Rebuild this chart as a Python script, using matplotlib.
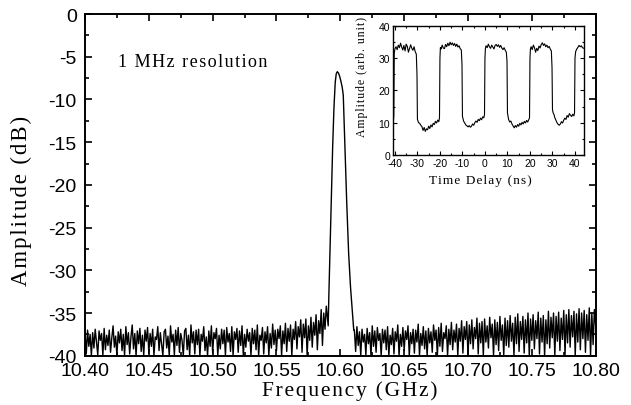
import numpy as np
import matplotlib
matplotlib.use('Agg')
import matplotlib.pyplot as plt
from matplotlib.ticker import MultipleLocator

plt.rcParams['axes.unicode_minus'] = False

# noise floor below the peak, 10.400 - 10.589 GHz (1 MHz steps)
noise_left = [
    -37.2, -39.8, -37.0, -38.9, -37.5, -40.0, -37.3, -39.1, -36.9, -38.4,
    -39.9, -37.1, -38.2, -37.4, -40.0, -36.8, -39.3, -37.6, -38.8, -37.0,
    -39.6, -37.9, -36.5, -39.0, -37.7, -40.0, -37.2, -38.5, -36.9, -39.4,
    -37.5, -40.0, -36.6, -38.7, -37.3, -39.8, -37.8, -36.4, -39.2, -37.4,
    -40.0, -37.1, -38.6, -36.8, -39.5, -37.6, -40.0, -37.0, -38.3, -36.7,
    -39.7, -37.4, -38.9, -36.9, -40.0, -37.8, -38.1, -36.6, -39.4, -37.3,
    -38.6, -40.0, -37.2, -36.9, -39.1, -37.7, -40.0, -36.5, -38.4, -37.5,
    -39.9, -37.0, -38.8, -36.7, -39.6, -37.4, -38.2, -40.0, -37.1, -36.8,
    -39.3, -37.6, -40.0, -36.4, -38.5, -37.2, -39.8, -37.0, -38.7, -36.9,
    -40.0, -37.5, -38.3, -36.6, -39.4, -37.8, -40.0, -37.1, -38.9, -36.5,
    -39.7, -37.3, -38.0, -36.8, -40.0, -37.6, -39.2, -36.9, -38.6, -37.0,
    -40.0, -36.7, -38.4, -37.4, -39.5, -36.6, -40.0, -37.2, -38.1, -36.8,
    -39.6, -37.1, -38.8, -36.5, -40.0, -37.5, -39.0, -36.9, -38.3, -37.3,
    -40.0, -36.8, -38.6, -37.0, -39.3, -36.4, -40.0, -37.6, -38.2, -36.7,
    -39.8, -37.2, -38.5, -36.6, -40.0, -37.4, -39.1, -36.3, -38.7, -37.0,
    -39.4, -36.9, -38.0, -36.5, -40.0, -37.1, -38.6, -36.2, -39.5, -36.8,
    -38.3, -36.4, -40.0, -36.9, -38.1, -36.0, -39.2, -36.6, -37.8, -35.8,
    -39.6, -36.3, -37.9, -35.7, -40.0, -36.5, -38.2, -35.5, -39.0, -36.1,
    -37.6, -35.2, -39.3, -35.9, -37.4, -34.6, -38.8, -35.0, -36.9, -34.2,
]

# the carrier peak
peak_freq = [10.5905, 10.5910, 10.5920, 10.5930, 10.5940, 10.5950, 10.5960,
             10.5968, 10.5976, 10.5985, 10.5995, 10.6005, 10.6015, 10.6023,
             10.6035, 10.6050, 10.6065, 10.6080, 10.6097, 10.6105]
peak_amp = [-36.5, -33.0, -27.0, -21.0, -15.5, -11.0, -8.0,
            -7.0, -6.75, -6.9, -7.3, -7.9, -8.6, -9.5,
            -15.0, -22.0, -28.0, -32.0, -35.3, -37.0]

# noise floor above the peak, 10.611 - 10.800 GHz
noise_right = [
    -37.0, -39.5, -36.6, -38.8, -37.2, -40.0, -36.9, -38.4, -37.5, -39.9,
    -36.8, -38.6, -37.3, -40.0, -36.5, -38.9, -37.1, -39.6, -36.7, -38.2,
    -37.4, -40.0, -36.9, -38.5, -37.0, -39.3, -36.6, -40.0, -37.6, -38.7,
    -36.8, -39.8, -37.2, -38.3, -36.4, -40.0, -37.5, -38.9, -36.7, -39.4,
    -37.1, -38.1, -36.5, -40.0, -37.3, -38.6, -36.9, -39.7, -37.0, -38.4,
    -36.3, -40.0, -37.4, -38.8, -36.6, -39.2, -37.1, -40.0, -36.8, -38.5,
    -37.2, -39.6, -36.4, -38.2, -37.0, -40.0, -36.7, -38.9, -36.2, -39.5,
    -37.3, -38.0, -36.5, -40.0, -36.9, -38.7, -36.1, -39.3, -37.0, -38.4,
    -36.3, -40.0, -36.8, -38.3, -35.9, -39.7, -36.6, -38.1, -36.0, -40.0,
    -36.4, -38.6, -35.8, -39.2, -36.7, -38.0, -35.6, -39.8, -36.2, -38.5,
    -36.0, -40.0, -35.7, -38.4, -36.5, -39.1, -35.5, -37.9, -36.3, -40.0,
    -35.8, -38.7, -36.1, -39.4, -35.4, -38.2, -36.4, -40.0, -35.6, -38.8,
    -35.9, -39.0, -35.3, -38.3, -36.2, -40.0, -35.5, -38.6, -35.1, -39.5,
    -36.0, -38.1, -35.4, -39.7, -35.8, -38.5, -35.0, -40.0, -35.7, -38.2,
    -35.2, -39.2, -35.9, -38.0, -34.9, -39.8, -35.6, -38.4, -35.3, -40.0,
    -35.8, -38.6, -34.8, -39.1, -35.5, -37.9, -35.0, -40.0, -35.4, -38.3,
    -34.9, -39.4, -35.6, -38.1, -34.7, -39.9, -35.2, -38.5, -34.6, -39.0,
    -35.3, -37.8, -34.8, -40.0, -35.1, -38.4, -34.5, -39.3, -35.0, -38.0,
    -34.7, -39.6, -35.2, -38.2, -34.4, -40.0, -35.0, -38.7, -34.6, -36.5,
]

# inset: detected pulse train
t_ns = [-41, -40.8, -40.5, -40.3, -40.0, -39.5, -39, -38.5, -38, -37.5, -37, -36.5, -36,
        -35.5, -35, -34.5, -34, -33.5, -33, -32.5, -32, -31.5, -31, -30.5, -30.2, -30.0,
        -29.5, -29, -28.5, -28, -27.5, -27, -26.5, -26, -25.5, -25, -24.5, -24, -23.5,
        -23, -22.5, -22, -21.5, -21, -20.5, -20.2, -20.0,
        -19.8, -19.5, -19, -18.5, -18, -17.5, -17, -16.5, -16, -15.5, -15, -14.5, -14,
        -13.5, -13, -12.5, -12, -11.5, -11, -10.5, -10.2, -10.0,
        -9.5, -9, -8.5, -8, -7.5, -7, -6.5, -6, -5.5, -5, -4.5, -4, -3.5, -3, -2.5, -2,
        -1.5, -1, -0.5, -0.2, 0.0,
        0.2, 0.5, 1, 1.5, 2, 2.5, 3, 3.5, 4, 4.5, 5, 5.5, 6, 6.5, 7, 7.5, 8, 8.5, 9,
        9.5, 9.8, 10.0,
        10.5, 11, 11.5, 12, 12.5, 13, 13.5, 14, 14.5, 15, 15.5, 16, 16.5, 17, 17.5, 18,
        18.5, 19, 19.5, 19.8, 20.0,
        20.2, 20.5, 21, 21.5, 22, 22.5, 23, 23.5, 24, 24.5, 25, 25.5, 26, 26.5, 27, 27.5,
        28, 28.5, 29, 29.5, 29.8, 30.0,
        30.3, 30.7, 31, 31.5, 32, 32.5, 33, 33.5, 34, 34.5, 35, 35.5, 36, 36.5, 37, 37.5,
        38, 38.5, 39, 39.5, 39.8, 40.0,
        40.3, 40.8, 41.3, 41.8, 42.3, 42.8, 43.3, 44]
pulse = [10.2, 9.6, 12.0, 31.5, 32.8, 33.5, 32.6, 34.0, 33.2, 34.6, 33.4, 32.5, 33.9,
         32.2, 34.3, 33.6, 31.8, 32.9, 34.1, 33.0, 32.4, 33.5, 32.0, 31.2, 25.0, 11.0,
         10.0, 9.8, 9.2, 8.8, 7.6, 8.5, 7.3, 8.1, 7.8, 8.9, 8.2, 9.3, 8.7,
         9.8, 9.4, 10.4, 9.9, 10.8, 10.3, 11.5, 30.0,
         33.2, 32.8, 34.0, 33.1, 32.9, 34.2, 33.5, 34.6, 33.8, 34.9, 34.1, 34.7, 33.9,
         34.5, 33.6, 34.3, 33.4, 33.8, 32.9, 32.5, 28.0, 12.0,
         10.5, 9.9, 9.3, 9.0, 8.7, 9.1, 8.6, 8.9, 9.6, 9.2, 10.0, 10.5, 10.1, 11.0, 10.6, 11.4,
         10.9, 11.8, 11.5, 12.5, 30.0,
         33.0, 33.8, 33.2, 34.3, 33.5, 33.0, 34.0, 33.4, 32.8, 33.9, 34.2, 33.6, 34.1, 33.3, 33.9, 33.1, 32.6, 33.2, 32.4,
         31.8, 29.0, 13.0,
         11.0, 10.2, 10.5, 9.6, 9.0, 8.4, 9.1, 8.6, 9.4, 8.9, 9.8, 9.3, 10.1, 9.6, 10.4, 9.9,
         10.7, 10.2, 11.0, 11.5, 30.0,
         32.8, 33.5, 32.6, 34.0, 33.2, 31.8, 33.0, 32.3, 33.7, 33.1, 34.2, 34.7, 33.9, 34.4, 33.5, 34.0,
         33.2, 33.6, 32.8, 32.2, 27.0, 14.0,
         13.0, 12.5, 11.6, 10.8, 10.0, 9.5, 9.2, 9.6, 10.3, 9.9, 10.8, 11.4, 11.0, 12.2, 11.7, 12.8,
         12.3, 11.9, 12.6, 12.1, 13.0, 30.0,
         32.0, 32.8, 33.3, 33.9, 33.5, 33.8, 33.2, 33.0]

freq_left = np.linspace(10.400, 10.589, len(noise_left))
freq_right = np.linspace(10.611, 10.800, len(noise_right))
freq = np.concatenate([freq_left, peak_freq, freq_right])
amp = np.concatenate([noise_left, peak_amp, noise_right])

SERIF = ['Liberation Serif', 'DejaVu Serif']
SANS = ['Liberation Sans', 'DejaVu Sans']


def spaced(s):
    # the labels in the reference are letter-spaced a little
    return '\u200a'.join(s)


fig = plt.figure(figsize=(6.31, 4.06), dpi=100)
ax = fig.add_axes([0.1347, 0.1214, 0.8093, 0.8416])
ax.plot(freq, amp, color='black', lw=1.0)
ax.set_xlim(10.40, 10.80)
ax.set_ylim(-40, 0)
ax.xaxis.set_major_locator(MultipleLocator(0.05))
ax.xaxis.set_minor_locator(MultipleLocator(0.025))
ax.yaxis.set_major_locator(MultipleLocator(5))
ax.yaxis.set_minor_locator(MultipleLocator(2.5))
ax.xaxis.set_major_formatter(plt.FormatStrFormatter('%.2f'))
ax.tick_params(which='both', direction='in', top=True, right=True, width=1.2)
ax.tick_params(which='major', length=5, labelsize=14, pad=6)
ax.tick_params(axis='x', which='major', pad=4.5)
ax.tick_params(which='minor', length=3)
for lab in ax.get_xticklabels() + ax.get_yticklabels():
    lab.set_family(SANS)
for s in ax.spines.values():
    s.set_linewidth(1.4)
ax.set_xlabel(spaced('Frequency (GHz)'), family=SERIF, fontsize=15.5)
ax.set_ylabel(spaced('Amplitude (dB)'), family=SERIF, fontsize=16.5)
ax.xaxis.set_label_coords(0.519, -0.073)
ax.yaxis.set_label_coords(-0.104, 0.456)
ax.text(10.426, -5.6, spaced('1 MHz resolution'), family=SERIF, fontsize=13,
        ha='left', va='center')

# inset
ins = fig.add_axes([0.6223, 0.6158, 0.3032, 0.3184])
ins.plot(t_ns, pulse, color='black', lw=0.8)
ins.set_xlim(-41, 44)
ins.set_ylim(0, 40)
ins.xaxis.set_major_locator(MultipleLocator(10))
ins.xaxis.set_minor_locator(MultipleLocator(5))
ins.yaxis.set_major_locator(MultipleLocator(10))
ins.yaxis.set_minor_locator(MultipleLocator(5))
ins.tick_params(which='both', direction='in', top=True, right=True, width=0.8)
ins.tick_params(which='major', length=3, labelsize=7.5, pad=2)
ins.tick_params(which='minor', length=1.5)
for lab in ins.get_xticklabels() + ins.get_yticklabels():
    lab.set_family(SANS)
for s in ins.spines.values():
    s.set_linewidth(1.0)
ins.set_xlabel(spaced('Time Delay (ns)'), family=SERIF, fontsize=9.5)
ins.set_ylabel(spaced('Amplitude (arb. unit)'), family=SERIF, fontsize=8.5)
ins.xaxis.set_label_coords(0.46, -0.15)
ins.yaxis.set_label_coords(-0.13, 0.61)

fig.savefig('out.png', dpi=100)
